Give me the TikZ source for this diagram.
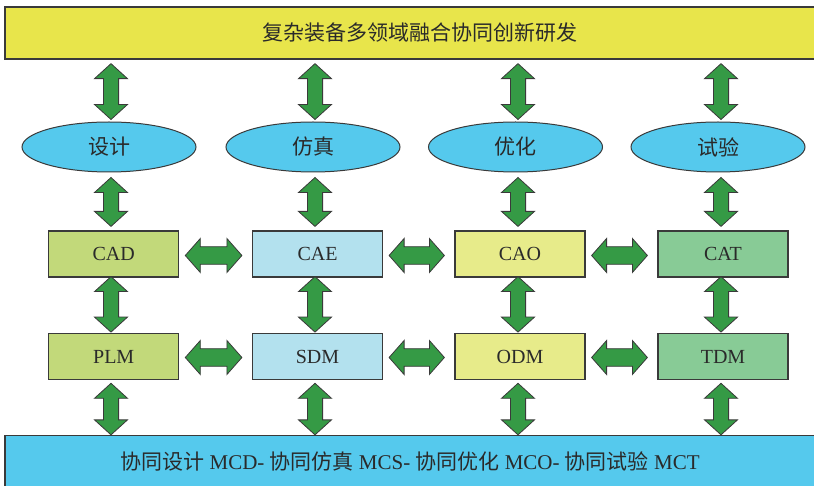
\documentclass[tikz,border=0pt]{standalone}
\usepackage{fontspec}
\setmainfont{Liberation Serif}
\newfontfamily\cjk{Noto Sans CJK SC}
\usetikzlibrary{calc,shapes.geometric}
\definecolor{topyellow}{HTML}{E8E54B}
\definecolor{cyanfill}{HTML}{55C9ED}
\definecolor{cadgreen}{HTML}{C2D97A}
\definecolor{caeblue}{HTML}{B3E1EE}
\definecolor{caoyellow}{HTML}{E7EB8A}
\definecolor{catgreen}{HTML}{88CB96}
\definecolor{arrowgreen}{HTML}{359A45}
\definecolor{bordergray}{HTML}{3A3A3A}
\definecolor{textgray}{HTML}{2A2A2A}
\newcommand\vdarrow[2]{\path[bigarrow] let \p1=(#1), \p2=(#2) in
  (\x1,\y1) -- (\x1+16.5pt,\y1-15pt) -- (\x1+7.6pt,\y1-15pt) -- (\x1+7.6pt,\y2+15pt)
  -- (\x1+16.5pt,\y2+15pt) -- (\x1,\y2) -- (\x1-16.5pt,\y2+15pt) -- (\x1-7.6pt,\y2+15pt)
  -- (\x1-7.6pt,\y1-15pt) -- (\x1-16.5pt,\y1-15pt) -- cycle;}
\newcommand\hdarrow[2]{\path[bigarrow] let \p1=(#1), \p2=(#2) in
  (\x1,\y1) -- (\x1+15pt,\y1+17pt) -- (\x1+15pt,\y1+8.8pt) -- (\x2-15pt,\y1+8.8pt)
  -- (\x2-15pt,\y1+17pt) -- (\x2,\y1) -- (\x2-15pt,\y1-17pt) -- (\x2-15pt,\y1-8.8pt)
  -- (\x1+15pt,\y1-8.8pt) -- (\x1+15pt,\y1-17pt) -- cycle;}
\begin{document}
\begin{tikzpicture}[x=1pt,y=-1pt,
  bar/.style={draw=bordergray,line width=1.3pt,rectangle,inner sep=0pt,text=textgray,font=\fontsize{21}{24}\selectfont},
  oval/.style={draw=bordergray,line width=1pt,ellipse,fill=cyanfill,minimum width=174pt,minimum height=50pt,inner sep=0pt,text=textgray,font=\fontsize{21}{24}\selectfont\cjk},
  sysbox/.style={draw=bordergray,line width=1.2pt,rectangle,minimum width=130pt,minimum height=46pt,inner sep=0pt,text=textgray,font=\fontsize{20}{22}\selectfont},
  bigarrow/.style={fill=arrowgreen,draw=bordergray,line width=0.8pt,line join=miter}]
\useasboundingbox (0,0) rectangle (814,486);
\clip (0,0) rectangle (814,486);
\node[bar,fill=topyellow,minimum width=830pt,minimum height=52pt] (top) at (420,33) {\cjk 复杂装备多领域融合协同创新研发};
\node[bar,fill=cyanfill,minimum width=810pt,minimum height=52pt] (bot) at (410,461.5)
  {{\cjk 协同设计} MCD- {\cjk 协同仿真} MCS- {\cjk 协同优化} MCO- {\cjk 协同试验} MCT};
\node[oval] (e1) at (109,147) {设计};
\node[oval] (e2) at (313,147) {仿真};
\node[oval] (e3) at (515.5,147) {优化};
\node[oval] (e4) at (718,147) {试验};
\node[sysbox,fill=cadgreen] (cad) at (113.7,254) {CAD};
\node[sysbox,fill=caeblue] (cae) at (317.5,254) {CAE};
\node[sysbox,fill=caoyellow] (cao) at (520,254) {CAO};
\node[sysbox,fill=catgreen] (cat) at (723,254) {CAT};
\node[sysbox,fill=cadgreen] (plm) at (113.7,356.7) {PLM};
\node[sysbox,fill=caeblue] (sdm) at (317.5,356.7) {SDM};
\node[sysbox,fill=caoyellow] (odm) at (520,356.7) {ODM};
\node[sysbox,fill=catgreen] (tdm) at (723,356.7) {TDM};
\coordinate (c1) at (111,0);
\coordinate (c2) at (315,0);
\coordinate (c3) at (518,0);
\coordinate (c4) at (721,0);
\foreach \c/\e/\u/\l in {c1/e1/cad/plm,c2/e2/cae/sdm,c3/e3/cao/odm,c4/e4/cat/tdm}{
  \vdarrow{$(top.south -| \c)+(0,4)$}{$(\e.north -| \c)+(0,-2)$}
  \vdarrow{$(\e.south -| \c)+(0,5)$}{$(\u.north -| \c)+(0,-4)$}
  \vdarrow{$(\u.south -| \c)+(0,-1)$}{$(\l.north -| \c)+(0,-1)$}
  \vdarrow{$(\l.south -| \c)+(0,3)$}{$(bot.north -| \c)$}
}
\foreach \a/\b in {cad/cae,cae/cao,cao/cat}{
  \hdarrow{$(\a.east)+(6,1.5)$}{$(\b.west)+(-10,1.5)$}
}
\foreach \a/\b in {plm/sdm,sdm/odm,odm/tdm}{
  \hdarrow{$(\a.east)+(6,0.8)$}{$(\b.west)+(-10,0.8)$}
}
\end{tikzpicture}
\end{document}
